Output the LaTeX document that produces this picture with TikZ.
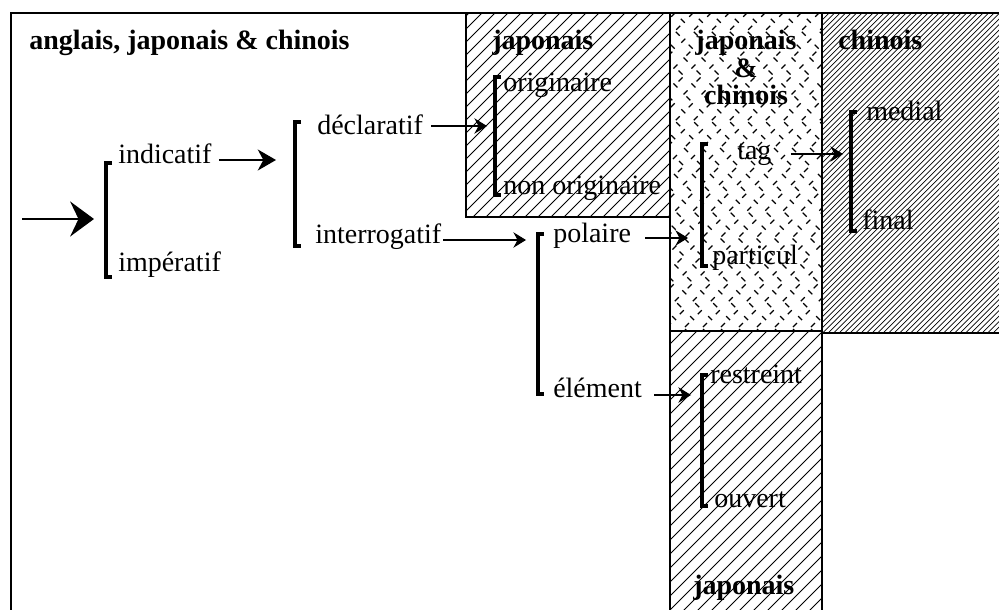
\documentclass[tikz,border=0pt]{standalone}
\usepackage{fontspec}
\setmainfont{Liberation Serif}
\usetikzlibrary{positioning,arrows.meta,calc}
\tikzset{
  lbl/.style={inner sep=0pt, anchor=base west, font=\fontsize{19.9}{24}\selectfont},
  ttl/.style={lbl, font=\fontsize{19.9}{24}\selectfont\bfseries},
  frame/.style={line width=1.1pt},
  sepline/.style={line width=2pt},
  brk/.style={line width=2.6pt, line cap=butt, line join=miter},
  conn/.style={line width=0.8pt, -{Stealth[length=9pt,width=11pt,inset=3pt]}},
  midconn/.style={line width=0.9pt, -{Stealth[length=13pt,width=15pt,inset=4pt]}},
  bigconn/.style={line width=1pt, -{Stealth[length=17pt,width=25pt,inset=6pt]}},
  sparse/.style={line width=0.7pt},
  dense/.style={line width=0.5pt},
  dashy/.style={line width=0.8pt, dash pattern=on 4pt off 9pt}
}
\newcommand\choicebar[3]{\draw[brk] (#1+6,#2) -- (#1,#2) -- (#1,#3) -- (#1+6,#3);}

\begin{document}
\begin{tikzpicture}[x=0.025cm, y=-0.025cm]
    \useasboundingbox (0,0) rectangle (999,610);
    \clip (0,0) rectangle (999,610);

    % hatching of the boxes
    \begin{scope}
      \clip (466,13) rectangle (670,217);
      \foreach \i in {226,239,...,680} \draw[sparse] (\i,230) -- ++(230,-230);
    \end{scope}
    \begin{scope}
      \clip (670,331) rectangle (822,615);
      \foreach \i in {380,394,...,840} \draw[sparse] (\i,620) -- ++(300,-300);
    \end{scope}
    \begin{scope}
      \clip (822,13) rectangle (1005,333);
      \foreach \i in {480,485.5,...,1010} \draw[dense] (\i,340) -- ++(340,-340);
    \end{scope}
    \begin{scope}
      \clip (670,13) rectangle (822,331);
      \foreach \i in {330,348,...,840} \draw[dashy] (\i,340) -- ++(340,-340);
      \foreach \i in {660,678,...,1170} \draw[dashy, dash phase=6pt] (\i,340) -- ++(-340,-340);
    \end{scope}

    % frames
    \draw[frame] (11,615) -- (11,13) -- (1005,13);
    \draw[frame] (466,13) -- (466,217) -- (670,217);
    \draw[frame] (670,13) -- (670,615);
    \draw[sepline] (822,13) -- (822,333);
    \draw[frame] (822,333) -- (822,615);
    \draw[sepline] (670,331) -- (822,331);
    \draw[frame] (822,333) -- (1005,333);

    % titles
    \node[ttl] (tAll) at (29,50) {anglais, japonais \& chinois};
    \node[ttl] (tJap) at (492,50) {japonais};
    \node[ttl, anchor=base] (tJC1) at (746,50) {japonais};
    \node[ttl, anchor=base] (tJC2) at (746,78) {\&};
    \node[ttl, anchor=base] (tJC3) at (746,105) {chinois};
    \node[ttl] (tChi) at (838,50) {chinois};
    \node[ttl] (tJapB) at (693,594) {japonais};

    % choices
    \node[lbl] (indicatif) at (118,163) {indicatif};
    \node[lbl] (imperatif) at (118,271) {impératif};
    \node[lbl] (declaratif) at (317,135) {déclaratif};
    \node[lbl] (interrogatif) at (315,243) {interrogatif};
    \node[lbl] (originaire) at (503,92) {originaire};
    \node[lbl] (nonorig) at (503,195) {non originaire};
    \node[lbl] (polaire) at (553,242) {polaire};
    \node[lbl] (element) at (553,397) {élément};
    \node[lbl] (tag) at (737,160) {tag};
    \node[lbl] (particul) at (712,264) {particul};
    \node[lbl] (medial) at (866,121) {medial};
    \node[lbl] (final) at (862,229) {final};
    \node[lbl] (restreint) at (710,383) {restreint};
    \node[lbl] (ouvert) at (714,507) {ouvert};

    % brackets
    \choicebar{106}{163}{277}
    \choicebar{295}{122}{246}
    \choicebar{495}{77}{195}
    \choicebar{538}{234}{394}
    \choicebar{702}{144}{266}
    \choicebar{851}{112}{231}
    \choicebar{702}{375}{506}

    % arrows into the brackets
    \coordinate (in) at (22,219);
    \coordinate (b1in) at (94,219);
    \coordinate (b2in) at (276,160);
    \coordinate (b3in) at (487,126);
    \coordinate (b4in) at (526,240);
    \coordinate (b5in) at (688,238);
    \coordinate (b6in) at (843,154);
    \coordinate (b7in) at (691,395);

    \draw[bigconn] (in) -- (b1in);
    \draw[midconn] ([shift={(7,-3)}]indicatif.base east) -- (b2in);
    \draw[conn] ([shift={(8,-9)}]declaratif.base east) -- (b3in);
    \draw[conn] ([shift={(2,-3)}]interrogatif.base east) -- (b4in);
    \draw[conn] ([shift={(14,-4)}]polaire.base east) -- (b5in);
    \draw[conn] ([shift={(19,-6)}]tag.base east) -- (b6in);
    \draw[conn] ([shift={(12,-2)}]element.base east) -- (b7in);
  \end{tikzpicture}
\end{document}
